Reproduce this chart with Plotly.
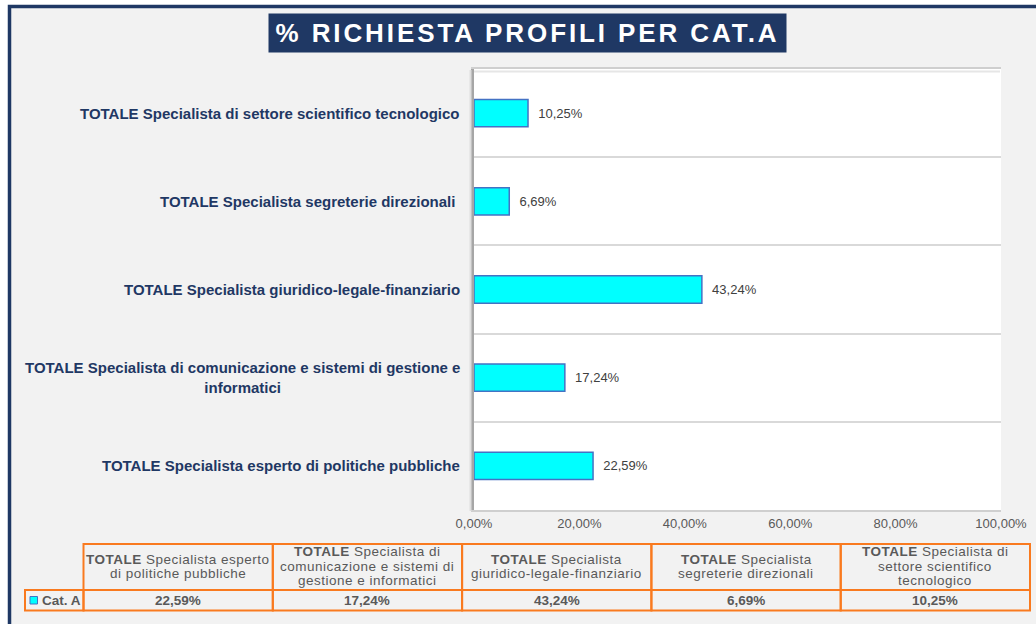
import plotly.graph_objects as go

# ---- data ----
categories = [
    "TOTALE Specialista esperto di politiche pubbliche",
    "TOTALE Specialista di comunicazione e sistemi di gestione e informatici",
    "TOTALE Specialista giuridico-legale-finanziario",
    "TOTALE Specialista segreterie direzionali",
    "TOTALE Specialista di settore scientifico tecnologico",
]
axis_labels = [
    "TOTALE Specialista esperto di politiche pubbliche",
    "TOTALE Specialista di comunicazione e sistemi di gestione e<br>informatici",
    "TOTALE Specialista giuridico-legale-finanziario",
    "TOTALE Specialista segreterie direzionali ",
    "TOTALE Specialista di settore scientifico tecnologico",
]
table_headers = [
    "<b>TOTALE</b> Specialista esperto<br>di politiche pubbliche",
    "<b>TOTALE</b> Specialista di<br>comunicazione e sistemi di<br>gestione e informatici",
    "<b>TOTALE</b> Specialista<br>giuridico-legale-finanziario",
    "<b>TOTALE</b> Specialista<br>segreterie direzionali",
    "<b>TOTALE</b> Specialista di<br>settore scientifico<br>tecnologico",
]
series_name = "Cat. A"
values = [0.2259, 0.1724, 0.4324, 0.0669, 0.1025]
x_ticks = [0, 0.2, 0.4, 0.6, 0.8, 1.0]

W, H = 1036, 624
NAVY = "#1f3864"
ORANGE = "#f97a1f"
FONT = "Liberation Sans, Arial, sans-serif"


def px(x):
    return x / W


def py(y):
    return 1 - y / H


fig = go.Figure()

fig.add_trace(go.Bar(
    x=values, y=categories, orientation="h", name=series_name,
    marker=dict(color="#00ffff", line=dict(color="#4472c4", width=1.5)),
    width=0.31,
    texttemplate="\u00a0\u00a0%{x:.2%}", textposition="outside",
    textfont=dict(family=FONT, size=13, color="#404040"),
    cliponaxis=False, showlegend=False,
))

annotations = []
shapes = [
    # page edge outside the frame
    dict(type="rect", xref="paper", yref="paper", x0=0, x1=px(8), y0=-0.01, y1=1.01,
         fillcolor="white", line=dict(width=0), layer="below"),
    dict(type="rect", xref="paper", yref="paper", x0=0, x1=1.01, y0=py(5), y1=1.01,
         fillcolor="white", line=dict(width=0), layer="below"),
    # navy frame
    dict(type="rect", xref="paper", yref="paper", x0=px(9.5), x1=1.02,
         y0=-0.02, y1=py(6.5), line=dict(color=NAVY, width=3.5)),
    # plot-area shadow on the left / top
    dict(type="line", xref="paper", yref="paper", x0=px(470.5), x1=px(470.5),
         y0=py(511), y1=py(70), line=dict(color="#dedede", width=2)),
    dict(type="line", xref="paper", yref="paper", x0=px(474), x1=px(1000),
         y0=py(71.5), y1=py(71.5), line=dict(color="#e6e6e6", width=2)),
]

# ---- data table (built from the arrays) ----
t_left, leg_w = 25, 58.5
col_w = (1030 - (t_left + leg_w)) / len(categories)
hdr_top, hdr_bot, row_bot = 544, 590, 610.5
hdr_mid, line_gap = 566.3, 14.4
for i, (hdr, v) in enumerate(zip(table_headers, values)):
    x0 = t_left + leg_w + i * col_w
    x1 = x0 + col_w
    for (ya, yb) in [(hdr_top, hdr_bot), (hdr_bot, row_bot)]:
        shapes.append(dict(type="rect", xref="paper", yref="paper",
                           x0=px(x0), x1=px(x1), y0=py(yb), y1=py(ya),
                           line=dict(color=ORANGE, width=2)))
    lines = hdr.split("<br>")
    n = len(lines)
    for k, ln in enumerate(lines):
        yc = hdr_mid + (k - (n - 1) / 2) * line_gap
        annotations.append(dict(
            x=px((x0 + x1) / 2), y=py(yc), xref="paper", yref="paper",
            text="<span style='letter-spacing:0.5px'>" + ln + "</span>",
            showarrow=False, align="center", xanchor="center", yanchor="middle",
            font=dict(family=FONT, size=13.5, color="#595959")))
    annotations.append(dict(
        x=px((x0 + x1) / 2), y=py((hdr_bot + row_bot) / 2 + 0.5), xref="paper", yref="paper",
        text="<b>" + f"{v * 100:.2f}".replace(".", ",") + "%</b>", showarrow=False,
        xanchor="center", yanchor="middle",
        font=dict(family=FONT, size=13.5, color="#595959")))

# legend cell
shapes.append(dict(type="rect", xref="paper", yref="paper",
                   x0=px(t_left), x1=px(t_left + leg_w), y0=py(row_bot), y1=py(hdr_bot),
                   line=dict(color=ORANGE, width=2)))
shapes.append(dict(type="rect", xref="paper", yref="paper",
                   x0=px(30), x1=px(37.5), y0=py(604), y1=py(596.5),
                   fillcolor="#00ffff", line=dict(color="#4472c4", width=1)))
annotations.append(dict(
    x=px(40), y=py(600.5), xref="paper", yref="paper", text="<b>" + series_name + "</b>",
    showarrow=False, xanchor="left", yanchor="middle",
    font=dict(family=FONT, size=13.5, color="#595959")))

# category labels
for cat, lab in zip(categories, axis_labels):
    annotations.append(dict(
        x=px(462), xref="paper", y=cat, yref="y",
        text=lab, showarrow=False, xanchor="right", align="center",
        font=dict(family=FONT, size=15, color=NAVY, weight="bold")))

# title
annotations.append(dict(
    x=px((270 + 785) / 2), y=py(33), xref="paper", yref="paper",
    xanchor="center", yanchor="middle",
    text="<span style='letter-spacing:2.9px'>% RICHIESTA PROFILI PER CAT.A</span>",
    showarrow=False, bgcolor=NAVY, width=515, height=36,
    font=dict(family=FONT, size=26, color="white", weight="bold")))

fig.update_layout(
    width=W, height=H,
    margin=dict(l=0, r=0, t=0, b=0, autoexpand=False),
    paper_bgcolor="#f2f2f2", plot_bgcolor="white",
    separators=",.",
    xaxis=dict(
        domain=[px(474), px(1001)], range=[0, 1], tickvals=x_ticks,
        tickformat=".2%", showgrid=False, zeroline=False, automargin=False,
        tickfont=dict(family=FONT, size=13, color="#595959"),
        showline=True, linecolor="#cfcfcf", linewidth=2, mirror=True,
        ticks="", fixedrange=True,
    ),
    yaxis=dict(
        domain=[py(510), py(69)], type="category", automargin=False,
        categoryorder="array", categoryarray=categories,
        showticklabels=False, ticks="", tickson="boundaries",
        showgrid=True, gridcolor="#d9d9d9", gridwidth=2,
        showline=True, linecolor="#a6a6a6", linewidth=3,
        fixedrange=True,
    ),
    shapes=shapes,
    annotations=annotations,
)

fig.write_html("out.html", config={"displayModeBar": False},
               post_script="document.body.style.margin='0';")
